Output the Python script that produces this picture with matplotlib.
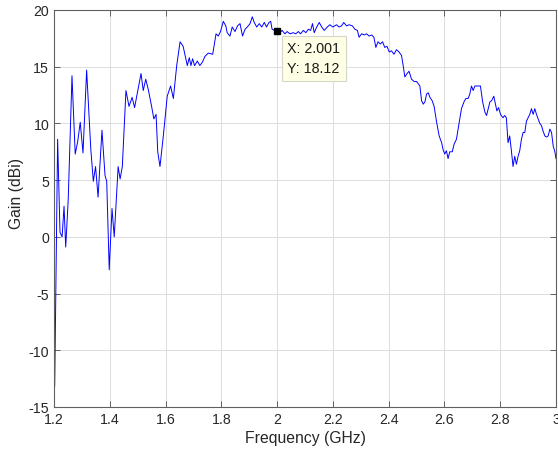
import matplotlib.pyplot as plt

# measured antenna gain vs frequency
freq_ghz = [
    1.200, 1.2025, 1.213, 1.2215, 1.229, 1.236, 1.242, 1.251, 1.2645, 1.276,
    1.285, 1.294, 1.304, 1.317, 1.332, 1.341, 1.349, 1.358, 1.372, 1.383,
    1.389, 1.398, 1.408, 1.416, 1.430, 1.437, 1.445, 1.458, 1.469, 1.480,
    1.489, 1.499, 1.512, 1.520, 1.529, 1.538, 1.550, 1.558, 1.566, 1.572,
    1.580, 1.592, 1.606, 1.618, 1.628, 1.640, 1.652, 1.663, 1.672, 1.678,
    1.685, 1.691, 1.697, 1.704, 1.714, 1.723, 1.732, 1.741, 1.753, 1.769,
    1.781, 1.789, 1.797, 1.807, 1.816, 1.821, 1.831, 1.839, 1.849, 1.858,
    1.867, 1.876, 1.885, 1.893, 1.903, 1.911, 1.918, 1.927, 1.936, 1.945,
    1.954, 1.962, 1.971, 1.977, 1.982, 1.991, 2.001, 2.010, 2.018, 2.028,
    2.036, 2.046, 2.058, 2.067, 2.076, 2.084, 2.094, 2.103, 2.112, 2.120,
    2.127, 2.133, 2.142, 2.151, 2.160, 2.169, 2.180, 2.189, 2.200, 2.213,
    2.222, 2.231, 2.239, 2.249, 2.258, 2.270, 2.279, 2.288, 2.294, 2.303,
    2.312, 2.321, 2.330, 2.339, 2.347, 2.354, 2.362, 2.370, 2.378, 2.386,
    2.394, 2.402, 2.410, 2.419, 2.428, 2.437, 2.446, 2.452, 2.458, 2.466,
    2.473, 2.482, 2.491, 2.500, 2.506, 2.512, 2.518, 2.524, 2.530, 2.536,
    2.542, 2.548, 2.556, 2.563, 2.572, 2.581, 2.590, 2.595, 2.601, 2.607,
    2.613, 2.619, 2.628, 2.635, 2.643, 2.653, 2.661, 2.670, 2.677, 2.685,
    2.691, 2.697, 2.703, 2.709, 2.715, 2.723, 2.729, 2.737, 2.745, 2.751,
    2.757, 2.763, 2.769, 2.777, 2.783, 2.788, 2.794, 2.801, 2.810, 2.816,
    2.822, 2.828, 2.834, 2.840, 2.846, 2.852, 2.858, 2.864, 2.870, 2.876,
    2.882, 2.888, 2.894, 2.900, 2.906, 2.912, 2.918, 2.924, 2.930, 2.936,
    2.942, 2.948, 2.954, 2.960, 2.966, 2.972, 2.978, 2.984, 2.990, 2.996,
    3.000,
]
gain_dbi = [
    -10.3, -13.2, 8.6, 0.4, 0.0, 2.7, -0.9, 3.3, 14.2, 7.3,
    8.4, 10.1, 7.4, 14.7, 7.7, 4.9, 6.2, 3.5, 9.4, 5.4,
    4.9, -2.9, 2.5, 0.0, 6.2, 5.1, 6.2, 12.9, 11.5, 12.3,
    11.4, 12.7, 14.4, 12.9, 13.9, 13.0, 11.5, 10.4, 10.8, 7.5,
    6.2, 8.9, 12.4, 13.3, 12.2, 15.1, 17.2, 16.8, 15.8, 15.1,
    15.8, 15.1, 15.7, 15.1, 15.5, 15.1, 15.4, 15.9, 16.2, 16.1,
    17.9, 17.7, 18.1, 19.0, 18.6, 18.0, 17.7, 18.5, 18.1, 18.6,
    18.8, 17.7, 18.3, 18.5, 18.8, 19.4, 18.9, 18.5, 18.8, 18.5,
    18.9, 18.5, 18.9, 19.0, 18.3, 18.2, 18.12, 18.0, 18.2, 17.9,
    18.1, 17.9, 18.0, 17.9, 18.1, 17.9, 18.2, 18.0, 18.3, 18.2,
    18.8, 18.0, 18.5, 18.9, 18.5, 18.2, 18.5, 18.7, 18.5, 18.7,
    18.5, 18.6, 18.9, 18.6, 18.7, 18.6, 18.3, 18.2, 17.6, 17.9,
    17.8, 17.9, 17.7, 17.8, 17.6, 16.7, 17.2, 17.0, 17.2, 16.7,
    16.8, 16.3, 16.4, 16.1, 16.5, 16.3, 16.0, 15.1, 14.1, 14.4,
    14.6, 13.9, 13.7, 13.7, 13.5, 13.3, 12.0, 11.7, 11.9, 12.6,
    12.7, 12.3, 12.0, 11.5, 10.1, 8.9, 8.3, 7.7, 7.3, 7.6,
    6.9, 7.5, 7.5, 8.2, 8.6, 10.1, 11.3, 11.9, 12.2, 12.2,
    12.6, 13.3, 12.9, 13.3, 13.3, 13.3, 13.3, 11.9, 11.0, 10.7,
    11.3, 11.9, 12.0, 12.4, 11.7, 11.1, 11.4, 10.8, 10.5, 10.7,
    10.5, 8.3, 8.9, 7.6, 6.2, 7.1, 6.4, 7.1, 7.6, 8.6,
    9.2, 9.2, 10.2, 10.5, 10.8, 11.3, 10.8, 11.3, 10.8, 10.4,
    10.0, 9.8, 9.3, 8.9, 8.8, 8.9, 9.5, 9.2, 8.0, 7.5,
    6.9,
]

# data tip
tip_x = 2.001
tip_y = 18.12

xticks = [1.2, 1.4, 1.6, 1.8, 2.0, 2.2, 2.4, 2.6, 2.8, 3.0]
xticklabels = ["1.2", "1.4", "1.6", "1.8", "2", "2.2", "2.4", "2.6", "2.8", "3"]
yticks = [-15, -10, -5, 0, 5, 10, 15, 20]

plt.rcParams["font.family"] = ["Liberation Sans", "DejaVu Sans"]
plt.rcParams["axes.unicode_minus"] = False

fig = plt.figure(figsize=(5.58, 4.56), dpi=100)
ax = fig.add_axes([54 / 558, 48 / 456, 502 / 558, 397 / 456])

ax.plot(freq_ghz, gain_dbi, color="#0000ff", lw=0.7)
ax.plot([tip_x], [tip_y], "s", color="black", ms=5, zorder=5)
ax.annotate("X: %.3f\nY: %.2f" % (tip_x, tip_y), xy=(tip_x, tip_y),
            xytext=(10, -10), textcoords="offset pixels",
            ha="left", va="top", fontsize=10.3, color="#1a1a1a",
            linespacing=1.55,
            bbox=dict(boxstyle="square,pad=0.4", fc="#ffffe6", ec="#d6d6c8", lw=0.8))

ax.set_xlim(1.2, 3.0)
ax.set_ylim(-15, 20)
ax.set_xticks(xticks)
ax.set_xticklabels(xticklabels)
ax.set_yticks(yticks)

ax.grid(True, color="#dcdcdc", lw=0.7)
ax.set_axisbelow(True)
for s in ax.spines.values():
    s.set_color("#606060")
    s.set_linewidth(0.8)
ax.tick_params(direction="in", length=4, width=0.7, colors="#606060",
               labelcolor="#262626", labelsize=10.2,
               top=True, right=True)

ax.set_xlabel("Frequency (GHz)", fontsize=11.3, color="#262626", labelpad=3)
ax.set_ylabel("Gain (dBi)", fontsize=11.3, color="#262626")
ax.yaxis.set_label_coords(-0.06, 0.54)

fig.savefig("out.png", dpi=100)
